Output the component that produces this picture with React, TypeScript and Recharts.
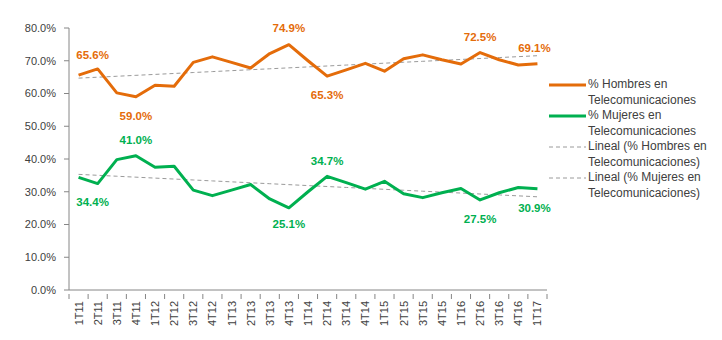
import React from "react";
import { LineChart, Line, XAxis, YAxis, LabelList } from "recharts";

const categories = ["1T11","2T11","3T11","4T11","1T12","2T12","3T12","4T12","1T13","2T13","3T13","4T13","1T14","2T14","3T14","4T14","1T15","2T15","3T15","4T15","1T16","2T16","3T16","4T16","1T17"];
const hombres = [65.6,67.5,60.2,59.0,62.5,62.2,69.5,71.2,69.5,67.8,72.2,74.9,70.0,65.3,67.2,69.2,66.8,70.6,71.8,70.3,69.0,72.5,70.3,68.7,69.1];
const mujeres = [34.4,32.5,39.8,41.0,37.5,37.8,30.5,28.8,30.5,32.2,27.8,25.1,30.0,34.7,32.8,30.8,33.2,29.4,28.2,29.7,31.0,27.5,29.7,31.3,30.9];
const yTicks = [0,10,20,30,40,50,60,70,80];

const seriesNames = ["% Hombres en Telecomunicaciones","% Mujeres en Telecomunicaciones"];
const ORANGE = "#E46C0A";
const GREEN = "#00B050";
const TREND = "#9A9A9A";

// which points carry a data label, and where the label sits relative to the point
const hombresLabels: Record<number, [number, number]> = { 0: [14, -20], 3: [0, 19], 11: [0, -17], 13: [0, 19], 21: [0, -16], 24: [-3, -16] };
const mujeresLabels: Record<number, [number, number]> = { 0: [14, 25], 3: [0, -16], 11: [0, 16], 13: [0, -15], 21: [0, 19], 24: [-3, 19] };

function linearFit(vals: number[]): number[] {
  const n = vals.length;
  let sx = 0, sy = 0, sxx = 0, sxy = 0;
  vals.forEach((v, i) => { sx += i; sy += v; sxx += i * i; sxy += i * v; });
  const b = (n * sxy - sx * sy) / (n * sxx - sx * sx);
  const a = (sy - b * sx) / n;
  return vals.map((_, i) => a + b * i);
}

const trendH = linearFit(hombres);
const trendM = linearFit(mujeres);

const data = categories.map((c, i) => ({
  cat: c,
  h: hombres[i],
  m: mujeres[i],
  th: trendH[i],
  tm: trendM[i],
}));

const FONT = "'Liberation Sans', Arial, sans-serif";
const STEP = 19.12;

const makeLabel = (cfg: Record<number, [number, number]>, color: string) => (props: any) => {
  const { x, y, value, index } = props;
  const off = cfg[index];
  if (!off) return null;
  return (
    <text x={x + off[0]} y={y + off[1]} fill={color} fontSize={11.5} fontWeight="bold" fontFamily={FONT}
      textAnchor="middle" dominantBaseline="central">
      {Number(value).toFixed(1)}%
    </text>
  );
};

const XTick = (props: any) => {
  const { x, y, payload, index } = props;
  const last = index === categories.length - 1;
  return (
    <g>
      <line x1={x - STEP / 2} y1={y - 4} x2={x - STEP / 2} y2={y + 1} stroke="#868686" />
      {last && <line x1={x + STEP / 2} y1={y - 4} x2={x + STEP / 2} y2={y + 1} stroke="#868686" />}
      <text transform={`translate(${x + 4},${y + 3}) rotate(-90)`} textAnchor="end" fontSize={11} fill="#404040" fontFamily={FONT}>
        {payload.value}
      </text>
    </g>
  );
};

const legendItems = [
  { label: ["% Hombres en", "Telecomunicaciones"], color: ORANGE, width: 3, dash: false },
  { label: ["% Mujeres en", "Telecomunicaciones"], color: GREEN, width: 3, dash: false },
  { label: ["Lineal (% Hombres en", "Telecomunicaciones)"], color: TREND, width: 1, dash: true },
  { label: ["Lineal (% Mujeres en", "Telecomunicaciones)"], color: TREND, width: 1, dash: true },
];

export default function App() {
  return (
    <div style={{ position: "absolute", left: 0, top: 0, width: 722, height: 340, background: "#fff" }}>
      <LineChart width={722} height={340} data={data} margin={{ top: 28, right: 175, left: 0, bottom: 0 }}>
        <XAxis dataKey="cat" height={50} interval={0} padding={{ left: STEP / 2, right: STEP / 2 }}
          stroke="#868686" tickLine={false} tick={<XTick />} />
        <YAxis domain={[0, 80]} ticks={yTicks} width={69} stroke="#868686" tickSize={5} tickMargin={8}
          tickFormatter={(v: number) => v.toFixed(1) + "%"}
          tick={{ fontSize: 11, fill: "#404040", fontFamily: FONT }} />
        <Line dataKey="th" name="Lineal (% Hombres en Telecomunicaciones)" stroke={TREND} strokeWidth={1} strokeDasharray="4 3" dot={false} isAnimationActive={false} />
        <Line dataKey="tm" name="Lineal (% Mujeres en Telecomunicaciones)" stroke={TREND} strokeWidth={1} strokeDasharray="4 3" dot={false} isAnimationActive={false} />
        <Line dataKey="h" name={seriesNames[0]} stroke={ORANGE} strokeWidth={3} dot={false} isAnimationActive={false} strokeLinejoin="round">
          <LabelList dataKey="h" content={makeLabel(hombresLabels, ORANGE)} />
        </Line>
        <Line dataKey="m" name={seriesNames[1]} stroke={GREEN} strokeWidth={3} dot={false} isAnimationActive={false} strokeLinejoin="round">
          <LabelList dataKey="m" content={makeLabel(mujeresLabels, GREEN)} />
        </Line>
      </LineChart>
      <div style={{ position: "absolute", left: 549, top: 77, fontFamily: FONT, fontSize: 12, color: "#404040", lineHeight: "15.5px" }}>
        {legendItems.map((it, i) => (
          <div key={i} style={{ position: "relative", paddingLeft: 39, whiteSpace: "nowrap" }}>
            <svg width={37} height={6} style={{ position: "absolute", left: 0, top: 5 }}>
              <line x1={0} y1={3} x2={37} y2={3} stroke={it.color} strokeWidth={it.width} strokeDasharray={it.dash ? "4 3" : undefined} />
            </svg>
            <div>{it.label[0]}</div>
            <div>{it.label[1]}</div>
          </div>
        ))}
      </div>
    </div>
  );
}
